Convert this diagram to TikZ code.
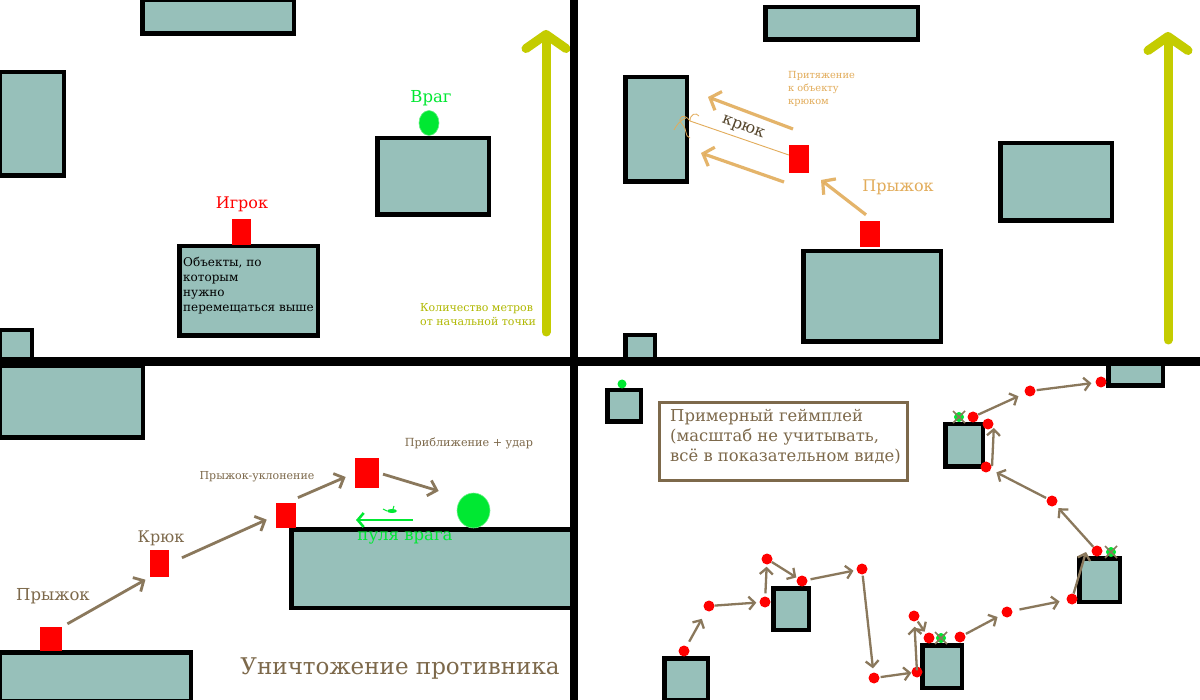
\documentclass[tikz,border=0pt]{standalone}
\usepackage{fontspec}
\setmainfont{DejaVu Serif}
\usetikzlibrary{arrows.meta,shapes.geometric}
\definecolor{objfill}{RGB}{151,192,186}
\definecolor{brn}{RGB}{138,120,92}
\definecolor{brntxt}{RGB}{125,105,75}
\definecolor{gold}{RGB}{226,172,90}
\definecolor{ylw}{RGB}{196,204,0}
\definecolor{grn}{RGB}{0,232,50}
\definecolor{hooktxt}{RGB}{85,70,45}
\newcommand\objbox[6][]{\node[obj,#1,minimum width={#4-#2-4.5},minimum height={#5-#3-4.5}] (#6) at ({(#2+#4)/2},{(#3+#5)/2}) {};}
\newcommand\plrbox[5]{\node[plr,minimum width={#3-#1},minimum height={#4-#2}] (#5) at ({(#1+#3)/2},{(#2+#4)/2}) {};}
\tikzset{
  obj/.style={draw=black,line width=4.5pt,fill=objfill,inner sep=0pt},
  plr/.style={fill=red,inner sep=0pt},
  dot/.style={circle,fill=red,inner sep=0pt,minimum size=11pt},
  gdot/.style={circle,fill=grn,inner sep=0pt,minimum size=10pt},
  barr/.style={draw=brn,line width=2.3pt,-{Straight Barb[length=6pt,width=13pt]}},
  barrq/.style={draw=brn,line width=2.8pt,-{Straight Barb[length=8pt,width=16pt]}},
  garr/.style={draw=gold,line width=3.2pt,opacity=0.9,-{Straight Barb[length=9pt,width=20pt]}},
  yarr/.style={draw=ylw,line width=9pt,line cap=round,-{Straight Barb[length=14pt,width=40pt,round]}},
  lbl/.style={inner sep=0pt,text=brntxt},
}
\begin{document}
\begin{tikzpicture}[x=1pt,y=-1pt]
\useasboundingbox (0,0) rectangle (1200,700);
\fill[white] (0,0) rectangle (1200,700);

% ===== Quadrant 1 =====
\objbox{140}{-2}{296}{36}{qatop}
\objbox{-3}{70}{66}{178}{qaleft}
\objbox{177}{244}{320}{338}{qatxt}
\objbox{375}{136}{491}{217}{qaenemy}
\objbox{-3}{328}{34}{362}{qasmall}
\plrbox{232}{219}{251}{245}{qaplayer}
\node[lbl,text=red,font=\fontsize{16}{18}\selectfont] (qaplbl) at (242,204) {Игрок};
\node[ellipse,fill=grn,draw=grn!60!white,line width=0.6pt,minimum width=20pt,minimum height=25pt,inner sep=0pt] (qaen) at (429,123) {};
\node[lbl,text=grn,font=\fontsize{16.5}{18}\selectfont] (qaenlbl) at (431,98) {Враг};
\node[lbl,text=black,anchor=north west,align=left,font=\fontsize{12}{15}\selectfont] (qatext) at (183,257) {Объекты, по\\которым\\нужно\\перемещаться выше};
\coordinate (ya0) at (546,332);
\coordinate (ya1) at (546,30);
\draw[yarr] (ya0) -- (ya1);
\node[lbl,text=ylw!90!black,anchor=north west,align=left,font=\fontsize{11}{14}\selectfont] (yalbl) at (420,303) {Количество метров\\от начальной точки};

% ===== Quadrant 2 =====
\objbox{763}{5}{920}{42}{qbtop}
\objbox{623}{75}{689}{184}{qbleft}
\objbox{998}{141}{1114}{223}{qbright}
\objbox{801}{249}{943}{344}{qbbottom}
\objbox{623}{333}{657}{362}{qbsmall}
\plrbox{789}{145}{809}{173}{qbpl1}
\plrbox{860}{221}{880}{247}{qbpl2}
\coordinate (gaA0) at (793,129);
\coordinate (gaA1) at (708,97);
\coordinate (gaB0) at (784,182);
\coordinate (gaB1) at (701,153);
\draw[garr] (qbpl2.north) ++(-4,-6) coordinate (gaC0) -- (821,180) coordinate (gaC1);
\draw[garr] (gaA0) -- (gaA1);
\draw[garr] (gaB0) -- (gaB1);
\coordinate (hook) at (690,121);
\draw[gold,line width=0.9pt] (qbpl1.west) ++(0,-4) -- (hook);
\draw[gold,line width=0.8pt] (hook) .. controls (684,112) and (676,118) .. (682,124) .. controls (688,130) and (684,136) .. (690,138);
\draw[gold,line width=0.8pt] (hook) .. controls (690,114) and (696,112) .. (699,116);
\draw[gold,line width=0.8pt] (686,118) .. controls (680,120) and (676,126) .. (674,130);
\node[lbl,text=hooktxt,rotate=-21,font=\fontsize{16}{18}\selectfont] (hooklbl) at (743,128) {крюк};
\node[lbl,text=gold,anchor=north west,align=left,font=\fontsize{9.8}{13}\selectfont] (pullbl) at (788,71) {Притяжение\\к объекту\\крюком};
\node[lbl,text=gold,font=\fontsize{16}{18}\selectfont] (jmplbl) at (898,187) {Прыжок};
\coordinate (yb0) at (1168,340);
\coordinate (yb1) at (1168,32);
\draw[yarr] (yb0) -- (yb1);

% ===== Quadrant 3 =====
\objbox{-3}{364}{145}{440}{qctl}
\objbox{-3}{650}{193}{703}{qcbl}
\objbox{289}{527}{578}{610}{qcbig}
\plrbox{40}{627}{62}{651}{qcp1}
\plrbox{150}{550}{169}{577}{qcp2}
\plrbox{276}{503}{296}{528}{qcp3}
\plrbox{355}{458}{379}{488}{qcp4}
\node[ellipse,fill=grn,draw=grn!55!white,line width=0.6pt,minimum width=33pt,minimum height=35pt,inner sep=0pt] (qcen) at (473.5,510.5) {};
\draw[barrq,shorten <=6pt,shorten >=5pt] (qcp1.north east) -- (qcp2.south west);
\draw[barrq,shorten <=14pt,shorten >=10pt] (qcp2.east) -- (qcp3.west);
\draw[barrq,shorten <=13pt,shorten >=10pt] (qcp3.north) -- (qcp4.west);
\draw[barrq,shorten <=4pt,shorten >=24pt] (qcp4.east) -- (qcen.north west);
\coordinate (bul0) at (413,520);
\coordinate (bul1) at (356,520);
\draw[draw=grn,line width=2.6pt,-{Straight Barb[length=6pt,width=14pt]}] (bul0) -- (bul1);
\fill[grn] (392,511) ellipse (5pt and 2pt);
\draw[grn,line width=1pt] (387,511) -- (383,509);
\draw[grn,line width=1pt] (393,509) -- (394,506);
\node[lbl,font=\fontsize{16.5}{18}\selectfont] (jmp3) at (53,596) {Прыжок};
\node[lbl,font=\fontsize{16}{18}\selectfont] (hook3) at (161,538) {Крюк};
\node[lbl,font=\fontsize{11}{12}\selectfont] (dodge3) at (257,477) {Прыжок-уклонение};
\node[lbl,font=\fontsize{11.2}{12}\selectfont] (hit3) at (469,443) {Приближение + удар};
\node[lbl,text=grn,font=\fontsize{16.5}{18}\selectfont] (bullbl) at (405,538) {пуля врага};
\node[lbl,font=\fontsize{23}{26}\selectfont] (killlbl) at (400,669) {Уничтожение противника};

% ===== Quadrant 4 =====
\objbox{605}{388}{643}{424}{qdsmall}
\node[gdot,minimum size=9pt] (qdg) at (622,384) {};
\node[draw=brntxt,line width=3pt,fill=white,minimum width=248pt,minimum height=78pt,inner sep=0pt] (qdbox) at (783.5,441.5) {};
\node[lbl,anchor=north west,align=left,font=\fontsize{16.4}{20}\selectfont] (qdtext) at (670,409) {Примерный геймплей\\(масштаб не учитывать,\\всё в показательном виде)};
\objbox{1106}{357}{1165}{388}{qdtr}
\objbox{943}{422}{985}{469}{qdA}
\objbox{1077}{556}{1122}{604}{qdB}
\objbox{662}{656}{710}{702}{qdC}
\objbox{771}{586}{811}{632}{qdD}
\objbox{920}{643}{964}{690}{qdE}
% dots
\node[dot] (d1) at (684,651) {};
\node[dot] (d2) at (709,606) {};
\node[dot] (d3) at (765,602) {};
\node[dot] (d4) at (767,559) {};
\node[dot] (d5) at (802,581) {};
\node[dot] (d6) at (862,569) {};
\node[dot] (d7) at (874,678) {};
\node[dot] (d8) at (917,672) {};
\node[dot] (d9) at (914,616) {};
\node[dot] (d10) at (929,638) {};
\node[dot] (d11) at (960,637) {};
\node[dot] (d12) at (1007,612) {};
\node[dot] (d13) at (1072,599) {};
\node[dot] (d14) at (1097,551) {};
\node[dot] (d15) at (1052,501) {};
\node[dot] (d16) at (986,467) {};
\node[dot] (d17) at (988,424) {};
\node[dot] (d18) at (973,417) {};
\node[dot] (d19) at (1030,391) {};
\node[dot] (d20) at (1101,382) {};
% green x marks
\node[gdot] (gx1) at (941,638) {};
\node[gdot] (gx2) at (959,417) {};
\node[gdot] (gx3) at (1111,552) {};
\foreach \g in {gx1,gx2,gx3}{
  \draw[brn,line width=1.6pt] ([shift={(-6,-6)}]\g.center) -- ([shift={(6,6)}]\g.center);
  \draw[brn,line width=1.6pt] ([shift={(-6,6)}]\g.center) -- ([shift={(6,-6)}]\g.center);
}
% arrows
\draw[barr,shorten <=5pt,shorten >=9pt] (d1) -- (d2);
\draw[barr,shorten <=0pt,shorten >=3pt] (d2) -- (d3);
\draw[barr,shorten <=3pt,shorten >=2pt] (d3) -- (d4);
\draw[barr,shorten <=0pt,shorten >=1pt] (d4) -- (d5);
\draw[barr,shorten <=3pt,shorten >=3pt] (d5) -- (d6);
\draw[barr,shorten <=1pt,shorten >=4pt] (d6) -- (d7);
\draw[barr,shorten <=1pt,shorten >=0pt] (d7) -- (d8);
\draw[barr,shorten <=-4pt,shorten >=5pt] (d8) -- (d9);
\draw[barr,shorten <=1pt,shorten >=2pt] (d9) -- (d10);
\draw[barr,shorten <=1pt,shorten >=5pt] (d11) -- (d12);
\draw[barr,shorten <=7pt,shorten >=7pt] (d12) -- (d13);
\coordinate (c12) at (1086,552);
\draw[barr,shorten <=0pt] (d13) -- (c12);
\draw[barr,shorten <=0pt,shorten >=4pt] (d14) -- (d15);
\draw[barr,shorten <=1pt,shorten >=6pt] (d15) -- (d16);
\draw[barr,shorten <=1pt,shorten >=4pt] ([xshift=6pt]d16.center) -- ([xshift=6pt]d17.center);
\draw[barr,shorten <=0pt,shorten >=7pt] (d18) -- (d19);
\draw[barr,shorten <=1pt,shorten >=4pt] (d19) -- (d20);

% ===== dividers =====
\draw[black,line width=8.5pt] (574,0) -- (574,700);
\draw[black,line width=9pt] (0,361.5) -- (1200,361.5);
\end{tikzpicture}
\end{document}
